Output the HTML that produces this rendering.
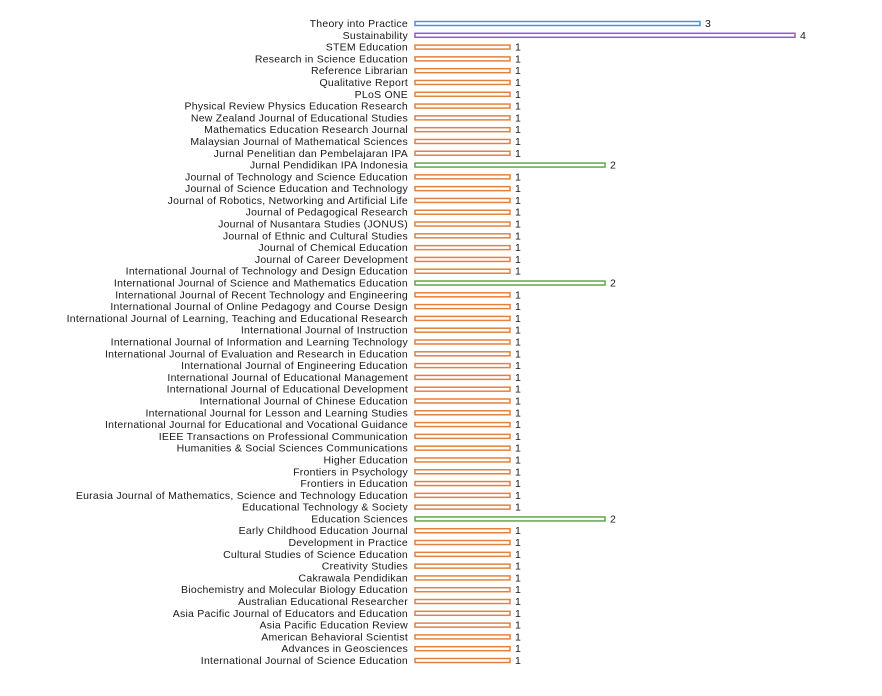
<!DOCTYPE html>
<html><head><meta charset="utf-8"><style>
body{margin:0;background:#fff;width:882px;height:691px;overflow:hidden}
svg text{font-family:"Liberation Sans",sans-serif;font-size:10.5px;letter-spacing:0.25px;fill:#1a1a1a}
</style></head><body>
<svg id="chart" width="882" height="691" xmlns="http://www.w3.org/2000/svg"></svg>
<script>
const categories=["Theory into Practice","Sustainability","STEM Education","Research in Science Education","Reference Librarian","Qualitative Report","PLoS ONE","Physical Review Physics Education Research","New Zealand Journal of Educational Studies","Mathematics Education Research Journal","Malaysian Journal of Mathematical Sciences","Jurnal Penelitian dan Pembelajaran IPA","Jurnal Pendidikan IPA Indonesia","Journal of Technology and Science Education","Journal of Science Education and Technology","Journal of Robotics, Networking and Artificial Life","Journal of Pedagogical Research","Journal of Nusantara Studies (JONUS)","Journal of Ethnic and Cultural Studies","Journal of Chemical Education","Journal of Career Development","International Journal of Technology and Design Education","International Journal of Science and Mathematics Education","International Journal of Recent Technology and Engineering","International Journal of Online Pedagogy and Course Design","International Journal of Learning, Teaching and Educational Research","International Journal of Instruction","International Journal of Information and Learning Technology","International Journal of Evaluation and Research in Education","International Journal of Engineering Education","International Journal of Educational Management","International Journal of Educational Development","International Journal of Chinese Education","International Journal for Lesson and Learning Studies","International Journal for Educational and Vocational Guidance","IEEE Transactions on Professional Communication","Humanities & Social Sciences Communications","Higher Education","Frontiers in Psychology","Frontiers in Education","Eurasia Journal of Mathematics, Science and Technology Education","Educational Technology & Society","Education Sciences","Early Childhood Education Journal","Development in Practice","Cultural Studies of Science Education","Creativity Studies","Cakrawala Pendidikan","Biochemistry and Molecular Biology Education","Australian Educational Researcher","Asia Pacific Journal of Educators and Education","Asia Pacific Education Review","American Behavioral Scientist","Advances in Geosciences","International Journal of Science Education"];
const values=[3,4,1,1,1,1,1,1,1,1,1,1,2,1,1,1,1,1,1,1,1,1,2,1,1,1,1,1,1,1,1,1,1,1,1,1,1,1,1,1,1,1,2,1,1,1,1,1,1,1,1,1,1,1,1];
const colorByValue={1:"#e4813e",2:"#63a64a",3:"#4d93d8",4:"#9a55d1"};
const svg=document.getElementById('chart');
const NS="http://www.w3.org/2000/svg";
const x0=415, unit=95, yTop=23.5, yBot=660.5;
const xs=v=>x0+v*unit;
const ys=i=>yTop+i*(yBot-yTop)/(categories.length-1);
categories.forEach((c,i)=>{
  const y=ys(i), v=values[i];
  const t=document.createElementNS(NS,'text');
  
  
  t.setAttribute('x',408);t.setAttribute('y',y+3.5);t.setAttribute('text-anchor','end');
  t.textContent=c;svg.appendChild(t);
  const r=document.createElementNS(NS,'rect');
  
  
  r.setAttribute('x',x0);r.setAttribute('y',y-2);r.setAttribute('width',xs(v)-x0);r.setAttribute('height',4);
  r.setAttribute('fill','none');r.setAttribute('stroke',colorByValue[v]);r.setAttribute('stroke-width',1.5);
  svg.appendChild(r);
  const l=document.createElementNS(NS,'text');
  
  
  l.setAttribute('x',xs(v)+5);l.setAttribute('y',y+3.5);
  l.textContent=v;svg.appendChild(l);
});
</script>
</body></html>
